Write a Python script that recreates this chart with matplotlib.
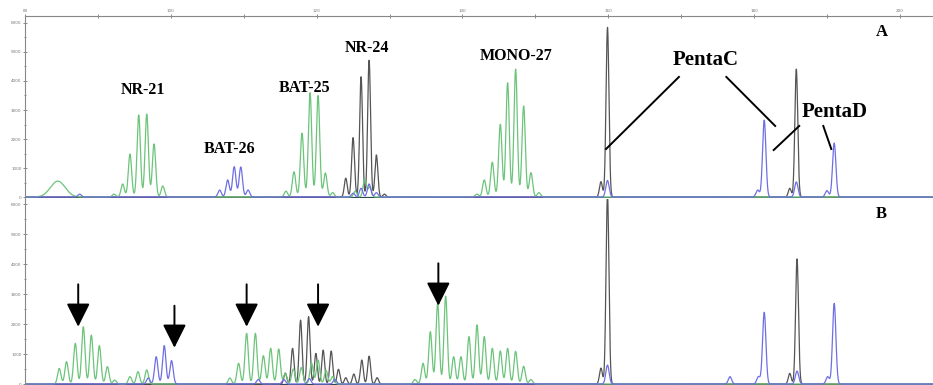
import numpy as np
import matplotlib
matplotlib.use("Agg")
import matplotlib.pyplot as plt
from matplotlib.ticker import MultipleLocator

# Peaks: size (bp) and height (RFU)

# Panel A - green dye
a_green_bp = [92.2, 93.4, 94.4, 95.6, 96.7, 97.7, 98.9,
              115.8, 116.9, 118.0, 119.1, 120.2, 121.2, 122.2,
              125.3, 126.6, 127.3,
              142.0, 143.0, 144.1, 145.2, 146.2, 147.3, 148.4, 149.4, 150.5]
a_green_rfu = [100, 450, 1480, 2830, 2860, 1830, 380,
               200, 870, 2200, 3600, 3500, 830, 150,
               200, 600, 350,
               100, 590, 1200, 2510, 3940, 4410, 3140, 840, 150]
# broad primer-dimer bump at the start
a_dimer_bp = [84.5]
a_dimer_rfu = [550]

# Panel A - black dye
a_black_bp = [124.0, 125.0, 126.1, 127.2, 128.2, 129.3,
              159.0, 159.9, 184.9, 185.8]
a_black_rfu = [650, 2050, 4150, 4720, 1450, 100,
               530, 5850, 300, 4410]

# Panel A - blue dye
a_blue_bp = [87.5, 106.7, 107.8, 108.7, 109.6, 110.6,
             125.0, 126.1, 127.2, 128.2,
             159.9, 180.5, 181.4, 185.8, 190.0, 191.0]
a_blue_rfu = [100, 240, 590, 1045, 1035, 240,
              130, 300, 450, 150,
              570, 240, 2650, 520, 220, 1860]

# Panel B - green dye
b_green_bp = [84.7, 85.7, 86.9, 88.0, 89.1, 90.2, 91.3, 92.3, 94.4, 95.5, 96.7,
              108.1, 109.3, 110.4, 111.6, 112.7, 113.7, 114.8, 115.7, 116.8, 117.9,
              119.3, 120.2, 121.3, 122.2,
              133.5, 134.6, 135.6, 136.6, 137.7, 138.8, 139.8, 140.9, 142.0, 143.0,
              144.1, 145.2, 146.2, 147.3, 148.4, 149.4]
b_green_rfu = [520, 745, 1355, 1910, 1630, 1280, 580, 130, 245, 410, 470,
               200, 690, 1690, 1690, 945, 1190, 1170, 350, 500, 550,
               700, 800, 450, 250,
               150, 690, 1745, 2690, 2930, 910, 910, 1580, 1970, 1580,
               1190, 1100, 1190, 1090, 590, 150]

# Panel B - black dye
b_black_bp = [115.7, 116.7, 117.8, 118.9, 119.9, 120.9, 122.0, 123.0, 124.0,
              125.1, 126.2, 127.2, 128.3,
              159.0, 159.9, 184.9, 185.9]
b_black_rfu = [365, 1190, 2130, 2245, 1020, 1130, 1100, 490, 210,
               333, 800, 930, 210,
               530, 6300, 355, 4170]

# Panel B - blue dye
b_blue_bp = [96.9, 98.0, 99.1, 100.1, 112.0, 115.5, 119.0, 122.5,
             159.9, 176.7, 180.6, 181.4, 185.9, 190.1, 191.0]
b_blue_rfu = [200, 910, 1280, 780, 150, 150, 180, 150,
              630, 245, 245, 2390, 430, 245, 2690]

# Marker labels in panel A (text, bp, RFU)
marker_names = ["NR-21", "BAT-26", "BAT-25", "NR-24", "MONO-27"]
marker_bp = [96.2, 108.0, 118.4, 126.9, 147.4]
marker_rfu = [3690, 1655, 3760, 5150, 4860]

# Arrows in panel B pointing at the shifted alleles
arrow_bp = [87.3, 100.5, 110.4, 120.2, 136.7]
arrow_top = [3323, 2610, 3323, 3323, 4023]
arrow_tip = [1910, 1210, 1910, 1910, 2610]

GREEN = "#6cc47a"
BLUE = "#6f6fe4"
GRAY = "#555555"


def trace(x, bp, rfu, sigma=0.23):
    y = np.zeros_like(x)
    for b, h in zip(bp, rfu):
        y += h * np.exp(-0.5 * ((x - b) / sigma) ** 2)
    return y


x = np.linspace(80, 204.6, 6000)

fig = plt.figure(figsize=(9.33, 3.85), dpi=100)
ax_a = fig.add_axes([25 / 933, 1 - 198 / 385, 908 / 933, 182 / 385])
ax_b = fig.add_axes([25 / 933, 0, 908 / 933, 186 / 385])

# Panel A traces
ax_a.plot(x, trace(x, a_black_bp, a_black_rfu, 0.2), color=GRAY, lw=0.9)
ax_a.plot(x, trace(x, a_green_bp, a_green_rfu) + trace(x, a_dimer_bp, a_dimer_rfu, 1.0),
          color=GREEN, lw=0.9)
ax_a.plot(x, trace(x, a_blue_bp, a_blue_rfu), color=BLUE, lw=0.9)

# Panel B traces
ax_b.plot(x, trace(x, b_black_bp, b_black_rfu, 0.2), color=GRAY, lw=0.9)
ax_b.plot(x, trace(x, b_green_bp, b_green_rfu), color=GREEN, lw=0.9)
ax_b.plot(x, trace(x, b_blue_bp, b_blue_rfu), color=BLUE, lw=0.9)

for ax in (ax_a, ax_b):
    ax.axhline(0, color="#2f4a57", lw=0.9, zorder=1)
    ax.set_xlim(80, 204.55)
    ax.yaxis.set_major_locator(MultipleLocator(1000))
    ax.yaxis.set_minor_locator(MultipleLocator(500))
    ax.tick_params(axis="y", which="both", direction="inout", length=3, width=0.6,
                   colors="#777777", labelsize=3, pad=1)
    ax.tick_params(axis="y", which="minor", length=2)
    for side in ("right", "bottom", "top"):
        ax.spines[side].set_visible(False)
    ax.spines["left"].set_color("#888888")
    ax.spines["left"].set_linewidth(0.8)
    ax.patch.set_alpha(0)

ax_a.set_ylim(-34, 6241)
ax_b.set_ylim(-33, 6167)

# size scale along the top of panel A
ax_a.spines["top"].set_visible(True)
ax_a.spines["top"].set_color("#888888")
ax_a.spines["top"].set_linewidth(0.8)
ax_a.xaxis.tick_top()
ax_a.xaxis.set_major_locator(MultipleLocator(20))
ax_a.xaxis.set_minor_locator(MultipleLocator(10))
ax_a.tick_params(axis="x", which="both", direction="inout", length=3, width=0.6,
                 colors="#777777", labelsize=3, pad=1)
ax_b.set_xticks([])

font = dict(family="Liberation Serif", weight="bold")

for name, bp, rfu in zip(marker_names, marker_bp, marker_rfu):
    ax_a.text(bp, rfu, name, ha="center", va="center", fontsize=11.5, **font)

ax_a.text(173.4, 4720, "PentaC", ha="center", va="center", fontsize=15, **font)
ax_a.text(191.0, 2930, "PentaD", ha="center", va="center", fontsize=15, **font)
ax_a.text(197.6, 5690, "A", ha="center", va="center", fontsize=12, **font)
ax_b.text(197.5, 5667, "B", ha="center", va="center", fontsize=12, **font)

# leader lines from the Penta labels to their peaks
ax_a.plot([169.7, 159.7], [4140, 1655], color="black", lw=1.4)
ax_a.plot([176.2, 182.9], [4140, 2450], color="black", lw=1.4)
ax_a.plot([186.2, 182.7], [2450, 1620], color="black", lw=1.4)
ax_a.plot([189.5, 190.6], [2450, 1655], color="black", lw=1.4)

for bp, top, tip in zip(arrow_bp, arrow_top, arrow_tip):
    ax_b.annotate("", xy=(bp, tip), xytext=(bp, top),
                  arrowprops=dict(arrowstyle="-|>,head_length=14.4,head_width=7.2",
                                  mutation_scale=1, lw=1.4, color="black",
                                  shrinkA=0, shrinkB=0))

plt.savefig("out.png", dpi=100)
